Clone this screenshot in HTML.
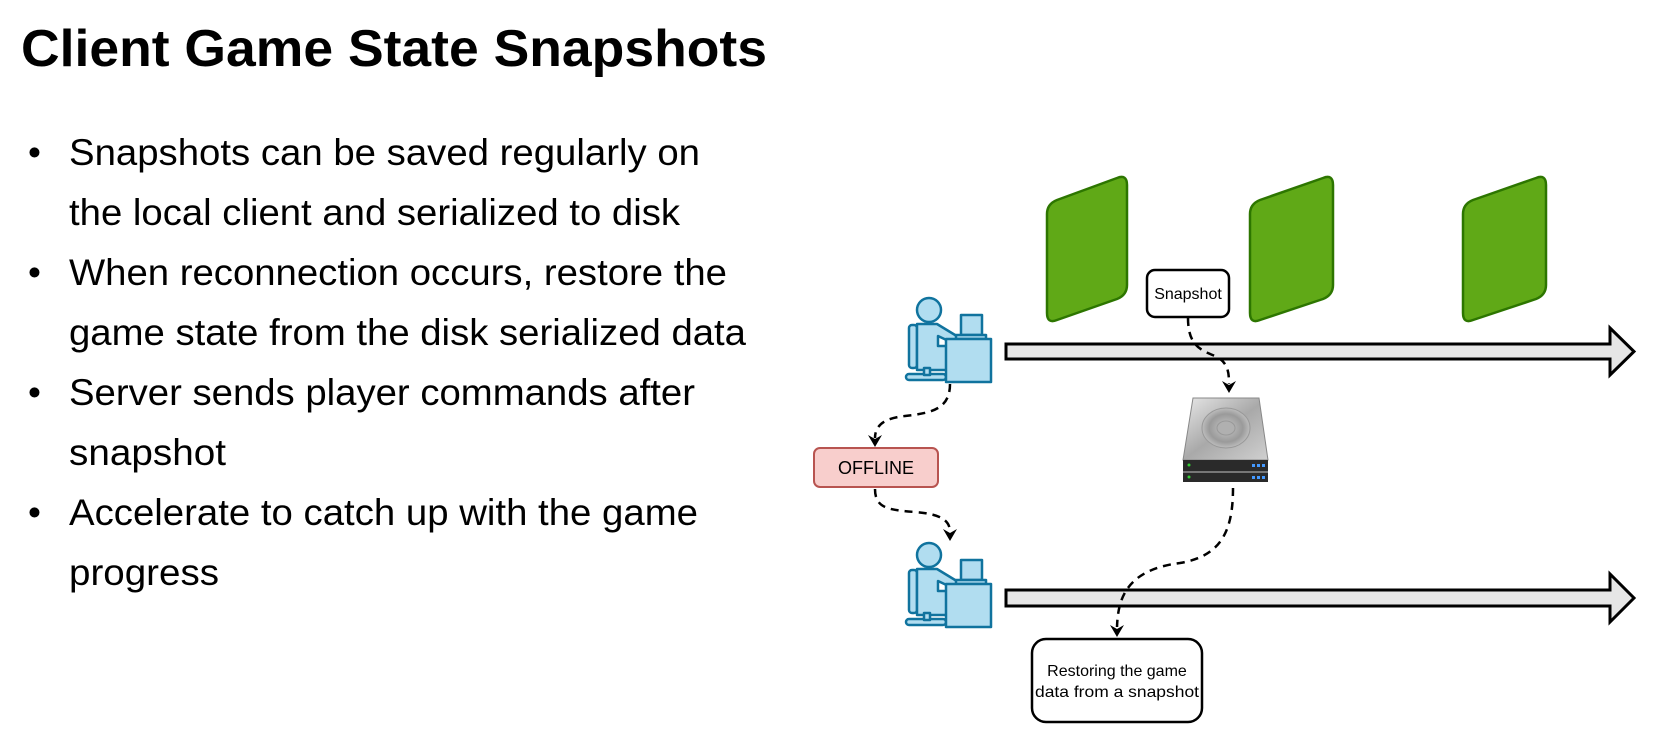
<!DOCTYPE html>
<html><head><meta charset="utf-8"><style>
html,body{margin:0;padding:0;background:#fff;}
svg{display:block;}
</style></head><body>
<svg width="1671" height="740" viewBox="0 0 1671 740" xmlns="http://www.w3.org/2000/svg">
<defs>
<linearGradient id="dk" x1="0" y1="0" x2="1" y2="1">
<stop offset="0" stop-color="#e8e8e8"/><stop offset="0.5" stop-color="#a9a9a9"/><stop offset="1" stop-color="#d0d0d0"/>
</linearGradient>
<radialGradient id="pl" cx="0.5" cy="0.5" r="0.5">
<stop offset="0" stop-color="#c8c8c8"/><stop offset="0.7" stop-color="#9a9a9a"/><stop offset="1" stop-color="#bdbdbd"/>
</radialGradient>
</defs>
<g font-family="'Liberation Sans', Arial, sans-serif" fill="#000">
<text x="21" y="66" font-size="52" font-weight="bold" textLength="746" lengthAdjust="spacingAndGlyphs">Client Game State Snapshots</text>
<g font-size="37">
<text x="28" y="165">•</text>
<text x="69" y="165" textLength="631" lengthAdjust="spacingAndGlyphs">Snapshots can be saved regularly on</text>
<text x="69" y="225" textLength="611" lengthAdjust="spacingAndGlyphs">the local client and serialized to disk</text>
<text x="28" y="285">•</text>
<text x="69" y="285" textLength="658" lengthAdjust="spacingAndGlyphs">When reconnection occurs, restore the</text>
<text x="69" y="345" textLength="677" lengthAdjust="spacingAndGlyphs">game state from the disk serialized data</text>
<text x="28" y="405">•</text>
<text x="69" y="405" textLength="626" lengthAdjust="spacingAndGlyphs">Server sends player commands after</text>
<text x="69" y="465" textLength="157" lengthAdjust="spacingAndGlyphs">snapshot</text>
<text x="28" y="525">•</text>
<text x="69" y="525" textLength="629" lengthAdjust="spacingAndGlyphs">Accelerate to catch up with the game</text>
<text x="69" y="585" textLength="150" lengthAdjust="spacingAndGlyphs">progress</text>
</g>
</g>

<!-- green panels -->
<g fill="#60a917" stroke="#2d7600" stroke-width="2.5" stroke-linejoin="round">
<path d="M1047,214 Q1047,204 1057,200 L1117,178 Q1127,174 1127,185 L1127,285 Q1127,295 1117,299 L1057,320 Q1047,324 1047,313 Z"/>
<path d="M1250,214 Q1250,204 1260,200 L1323,178 Q1333,174 1333,185 L1333,285 Q1333,295 1323,299 L1260,320 Q1250,324 1250,313 Z"/>
<path d="M1463,214 Q1463,204 1473,200 L1536,178 Q1546,174 1546,185 L1546,285 Q1546,295 1536,299 L1473,320 Q1463,324 1463,313 Z"/>
</g>

<!-- timeline arrows -->
<g fill="#e6e6e6" stroke="#000" stroke-width="3" stroke-linejoin="miter">
<path d="M1006,344 L1610,344 L1610,328 L1634,351.5 L1610,375 L1610,359 L1006,359 Z"/>
<path d="M1006,590 L1610,590 L1610,574 L1634,598 L1610,622 L1610,606 L1006,606 Z"/>
</g>

<!-- men at desks -->
<g id="man" fill="#b1ddf0" stroke="#10739e" stroke-width="2.5" stroke-linejoin="round">
<circle cx="929" cy="310" r="12"/>
<rect x="909" y="325" width="8" height="43" rx="3"/>
<path d="M917,324 L937,324 L960,338 L955,344 L938,336 L938,346 L948,346 L948,370 L917,370 Z"/>
<rect x="906" y="374" width="40" height="6" rx="3"/>
<rect x="924" y="368" width="6" height="7"/>
<rect x="961" y="315" width="21" height="20"/>
<rect x="956" y="335" width="30" height="4"/>
<rect x="946" y="339" width="45" height="43"/>
</g>
<use href="#man" transform="translate(0,245)"/>

<!-- boxes -->
<rect x="1147" y="270" width="82" height="47" rx="8" fill="#fff" stroke="#000" stroke-width="2.5"/>
<text x="1188" y="299" font-family="'Liberation Sans', Arial, sans-serif" font-size="16" text-anchor="middle">Snapshot</text>

<rect x="814" y="448" width="124" height="39" rx="6" fill="#f8cecc" stroke="#b85450" stroke-width="2"/>
<text x="876" y="474" font-family="'Liberation Sans', Arial, sans-serif" font-size="18" text-anchor="middle">OFFLINE</text>

<rect x="1032" y="639" width="170" height="83" rx="14" fill="#fff" stroke="#000" stroke-width="2.5"/>
<text x="1117" y="676" font-family="'Liberation Sans', Arial, sans-serif" font-size="16" text-anchor="middle">Restoring the game</text>
<text x="1117" y="697" font-family="'Liberation Sans', Arial, sans-serif" font-size="16" text-anchor="middle" textLength="164" lengthAdjust="spacingAndGlyphs">data from a snapshot</text>

<!-- disk -->
<g>
<path d="M1193,398 L1259,398 L1268,460 L1183,460 Z" fill="url(#dk)" stroke="#888" stroke-width="1"/>
<ellipse cx="1226" cy="428" rx="24" ry="20" fill="url(#pl)" stroke="#999"/>
<ellipse cx="1226" cy="428" rx="9" ry="7" fill="#b0b0b0" stroke="#999"/>
<rect x="1183" y="460" width="85" height="11" fill="#2a2a2a"/>
<rect x="1183" y="471" width="85" height="2" fill="#777"/>
<rect x="1183" y="473" width="85" height="9" fill="#2a2a2a"/>
<circle cx="1189" cy="465" r="1.5" fill="#3c3"/>
<circle cx="1189" cy="477" r="1.5" fill="#3c3"/>
<g fill="#49f"><rect x="1252" y="464" width="3" height="3"/><rect x="1257" y="464" width="3" height="3"/><rect x="1262" y="464" width="3" height="3"/>
<rect x="1252" y="476" width="3" height="3"/><rect x="1257" y="476" width="3" height="3"/><rect x="1262" y="476" width="3" height="3"/></g>
</g>

<!-- dashed connectors -->
<g fill="none" stroke="#000" stroke-width="2.5" stroke-dasharray="8,6">
<path d="M950,384 C950,410 930,413 905,416 C885,418 875,425 875,438"/>
<path d="M875,489 C875,508 888,510 915,512 C940,514 950,520 950,532"/>
<path d="M1188,318 C1188,345 1200,350 1215,356 C1228,362 1229,372 1229,384"/>
<path d="M1233,488 C1233,530 1222,556 1180,563 C1125,570 1118,600 1117,627"/>
</g>
<g fill="#000">
<path d="M868,435 L875,447 L882,435 L875,439 Z"/>
<path d="M943,529 L950,541 L957,529 L950,533 Z"/>
<path d="M1222,381 L1229,393 L1236,381 L1229,385 Z"/>
<path d="M1110,625 L1117,637 L1124,625 L1117,629 Z"/>
</g>
</svg>
</body></html>
